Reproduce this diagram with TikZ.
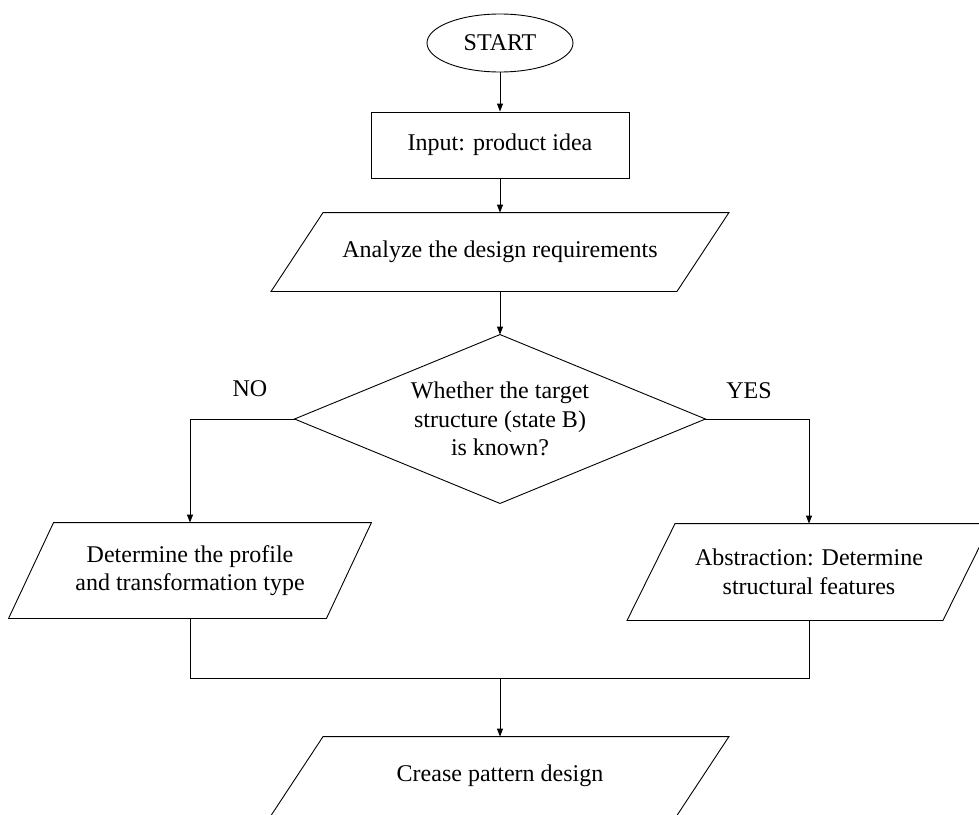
\documentclass[tikz,border=0pt]{standalone}
\usepackage{fontspec}
\setmainfont{Liberation Serif}
\usetikzlibrary{arrows.meta,shapes.geometric}

\begin{document}
\begin{tikzpicture}[x=1pt, y=-1pt, >={Triangle[length=8pt,width=6pt]},
  line width=0.9pt, font=\fontsize{24}{28.5}\selectfont,
  terminal/.style={ellipse, draw, inner sep=0pt, minimum width=146pt, minimum height=58pt},
  procbox/.style={rectangle, draw, inner sep=0pt, minimum width=258pt, minimum height=66pt},
  iobox/.style={rectangle, align=center, inner sep=0pt, minimum width=#1},
  decbox/.style={rectangle, align=center, inner sep=0pt, minimum width=410pt, minimum height=168pt}]

  % --- Page frame ---
  \useasboundingbox (0,0) rectangle (979,814);
  \clip (0,0) rectangle (979,814);

  % --- Main column ---
  \node[terminal] (start) at (500,43) {START};
  \node[procbox] (input) at (500,145) {Input: product idea};
  \node[iobox=405pt, minimum height=78pt] (ana) at (500,252) {Analyze the design requirements};
  \node[decbox] (dec) at (500,419)
    {Whether the target\\structure (state B)\\is known?};

  % --- Two branches ---
  \node[iobox=317pt, minimum height=95pt] (prof) at (190,570.5)
    {Determine the profile\\and transformation type};
  \node[iobox=315pt, minimum height=96pt] (abst) at (809,572)
    {Abstraction: Determine\\structural features};
  \node (no) at (250,389) {NO};
  \node (yes) at (749,391) {YES};

  % --- Output ---
  \node[iobox=405pt, minimum height=78pt] (crease) at (500,776) {Crease pattern design};
  \coordinate (join) at (500,678);

  % --- Outlines of parallelograms and decision ---
  \foreach \n/\s in {ana/26, prof/22.5, abst/24, crease/26}
    \draw ([xshift=\s pt]\n.north west) -- ([xshift=\s pt]\n.north east)
      -- ([xshift=-\s pt]\n.south east) -- ([xshift=-\s pt]\n.south west) -- cycle;
  \draw (dec.north) -- (dec.east) -- (dec.south) -- (dec.west) -- cycle;

  % --- Connectors ---
  \draw[->] (start) -- (input);
  \draw[->] (input) -- (ana);
  \draw[->] (ana) -- (dec.north);
  \draw[->] (dec.west) -| (prof.north);
  \draw[->] (dec.east) -| (abst.north);
  \draw (prof.south) |- (join) -| (abst.south);
  \draw[->] (join) -- (crease.north);

\end{tikzpicture}
\end{document}
